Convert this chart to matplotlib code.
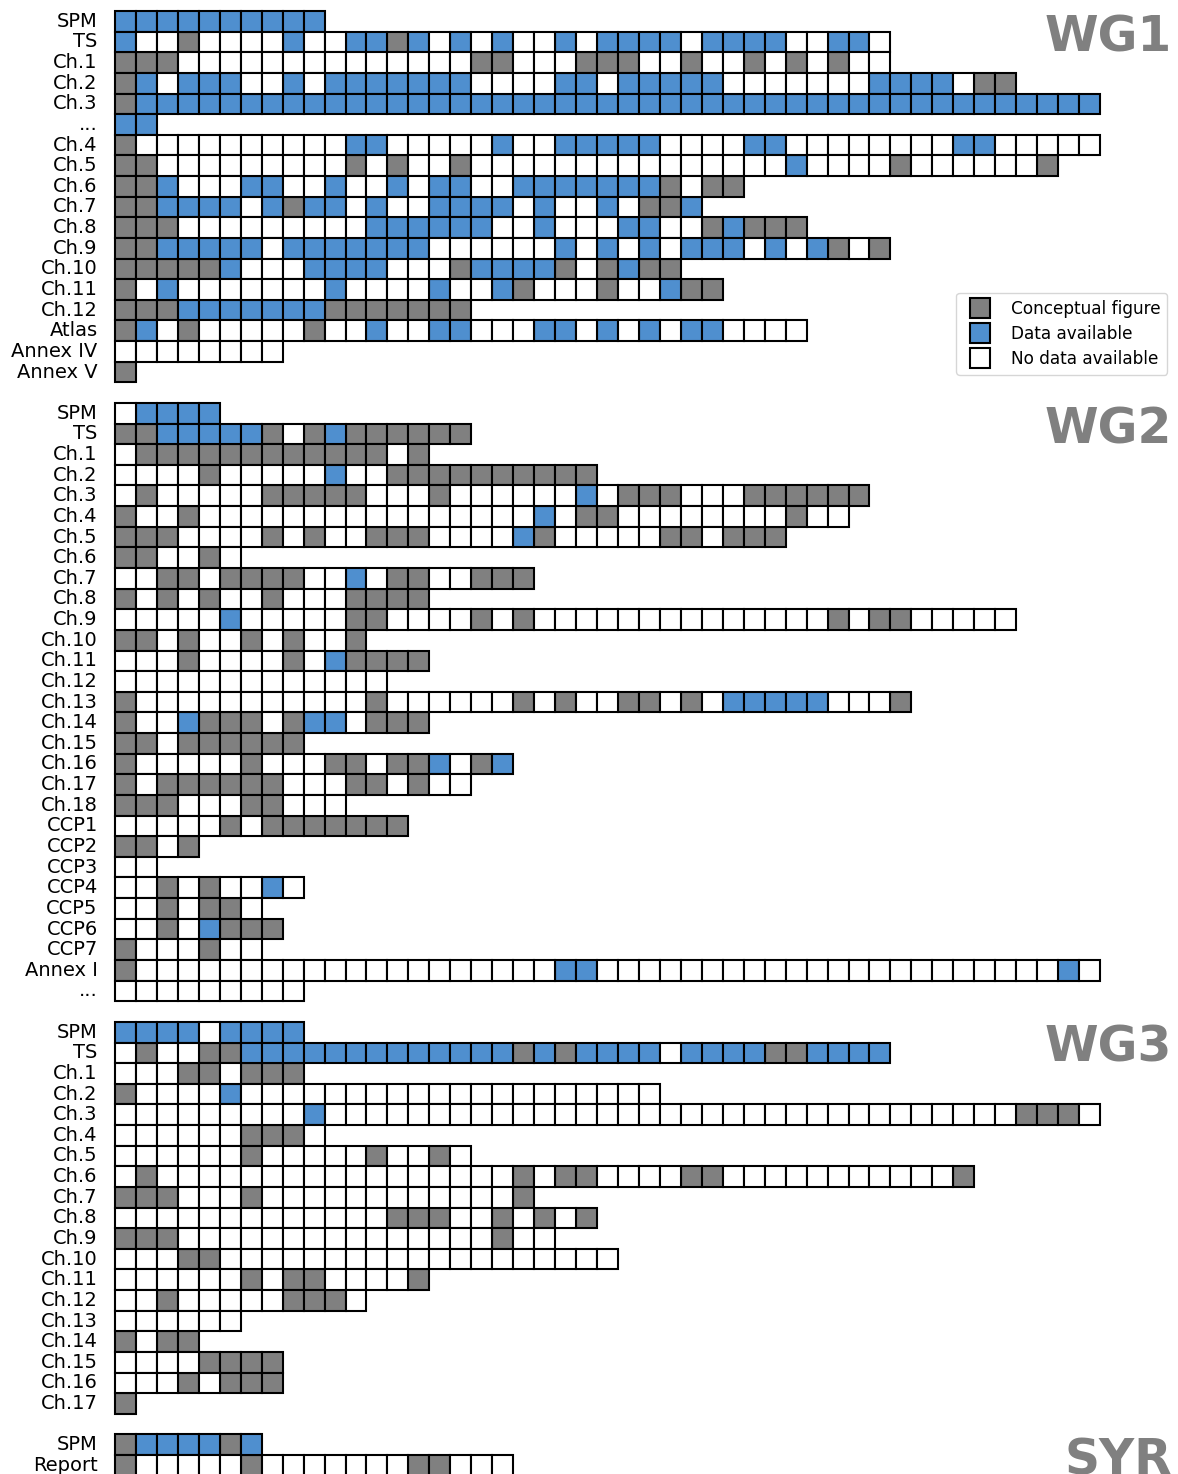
import matplotlib
matplotlib.use("Agg")
import matplotlib.pyplot as plt
import matplotlib.transforms as mtransforms
from matplotlib.lines import Line2D

# Status codes: G = conceptual figure, B = data available, W = no data available
wg1_labels = ["SPM", "TS", "Ch.1", "Ch.2", "Ch.3", "...", "Ch.4", "Ch.5", "Ch.6", "Ch.7",
              "Ch.8", "Ch.9", "Ch.10", "Ch.11", "Ch.12", "Atlas", "Annex IV", "Annex V"]
wg1_status = [
    "BBBBBBBBBB",
    "BWWGWWWWBW" "WBBGBWBWBW" "WBWBBBBWBB" "BBWWBBW",
    "GGGWWWWWWW" "WWWWWWWGGW" "WWGGGWWGWW" "GWGWGWW",
    "GBWBBBWWBW" "BBBBBBBWWW" "WBBWBBBBBW" "WWWWWWBBBB" "WGG",
    "GBBBBBBBBB" "BBBBBBBBBB" "BBBBBBBBBB" "BBBBBBBBBB" "BBBBBBB",
    "BB",
    "GWWWWWWWWW" "WBBWWWWWBW" "WBBBBBWWWW" "BBWWWWWWWW" "BBWWWWW",
    "GGWWWWWWWW" "WGWGWWGWWW" "WWWWWWWWWW" "WWBWWWWGWW" "WWWWG",
    "GGBWWWBBWW" "BWWBWBBWWB" "BBBBBBGWGG",
    "GGBBBBWBGB" "BWBWWBBBBW" "BWWBWGGB",
    "GGGWWWWWWW" "WWBBBBBBWW" "BWWWBBWWGB" "GGG",
    "GGBBBBBWBB" "BBBBBWWWWW" "WBWBWBWBBB" "WBWBGWG",
    "GGGGGBWWWB" "BBBWWWGBBB" "BGWGBGG",
    "GWBWWWWWWW" "BWWWWBWWBG" "WWWGWWBGG",
    "GGGBBBBBBB" "GGGGGGG",
    "GBWGWWWWWG" "WWBWWBBWWW" "BBWBWBWBBW" "WWW",
    "WWWWWWWW",
    "G",
]

wg2_labels = ["SPM", "TS", "Ch.1", "Ch.2", "Ch.3", "Ch.4", "Ch.5", "Ch.6", "Ch.7", "Ch.8",
              "Ch.9", "Ch.10", "Ch.11", "Ch.12", "Ch.13", "Ch.14", "Ch.15", "Ch.16", "Ch.17",
              "Ch.18", "CCP1", "CCP2", "CCP3", "CCP4", "CCP5", "CCP6", "CCP7", "Annex I", "..."]
wg2_status = [
    "WBBBB",
    "GGBBBBBGWG" "BGGGGGG",
    "WGGGGGGGGG" "GGGWG",
    "WWWWGWWWWW" "BWWGGGGGGG" "GGG",
    "WGWWWWWGGG" "GGWWWGWWWW" "WWBWGGGWWW" "GGGGGG",
    "GWWGWWWWWW" "WWWWWWWWWW" "BWGGWWWWWW" "WWGWW",
    "GGGWWWWGWG" "WWGGGWWWWB" "GWWWWWGGWG" "GG",
    "GGWWGW",
    "WWGGWGGGGW" "WBWGGWWGGG",
    "GWGWGWWGWW" "WGGGG",
    "WWWWWBWWWW" "WGGWWWWGWG" "WWWWWWWWWW" "WWWWGWGGWW" "WWW",
    "GGWGWWGWGW" "WG",
    "WWWGWWWWGW" "BGGGG",
    "WWWWWWWWWW" "WWW",
    "GWWWWWWWWW" "WWGWWWWWWG" "WGWWGGWGWB" "BBBBWWWG",
    "GWWBGGGWGB" "BWGGG",
    "GGWGGGGGG",
    "GWWWWWGWWW" "GGWGGBWGB",
    "GWGGGGGGWW" "WGGWGWW",
    "GGGWWWGGWW" "W",
    "WWWWWGWGGG" "GGGG",
    "GGWG",
    "WW",
    "WWGWGWWBW",
    "WWGWGGW",
    "WWGWBGGG",
    "GWWWGWW",
    "GWWWWWWWWW" "WWWWWWWWWW" "WBBWWWWWWW" "WWWWWWWWWW" "WWWWWBW",
    "WWWWWWWWW",
]

wg3_labels = ["SPM", "TS", "Ch.1", "Ch.2", "Ch.3", "Ch.4", "Ch.5", "Ch.6", "Ch.7", "Ch.8",
              "Ch.9", "Ch.10", "Ch.11", "Ch.12", "Ch.13", "Ch.14", "Ch.15", "Ch.16", "Ch.17"]
wg3_status = [
    "BBBBWBBBB",
    "WGWWGGBBBB" "BBBBBBBBBG" "BGBBBBWBBB" "BGGBBBB",
    "WWWGGWGGG",
    "GWWWWBWWWW" "WWWWWWWWWW" "WWWWWW",
    "WWWWWWWWWB" "WWWWWWWWWW" "WWWWWWWWWW" "WWWWWWWWWW" "WWWGGGW",
    "WWWWWWGGGW",
    "WWWWWWGWWW" "WWGWWGW",
    "WGWWWWWWWW" "WWWWWWWWWG" "WGGWWWWGGW" "WWWWWWWWWW" "G",
    "GGGWWWGWWW" "WWWWWWWWWG",
    "WWWWWWWWWW" "WWWGGGWWGW" "GWG",
    "GGGWWWWWWW" "WWWWWWWWGW" "W",
    "WWWGGWWWWW" "WWWWWWWWWW" "WWWW",
    "WWWWWWGWGG" "WWWWG",
    "WWGWWWWWGG" "GW",
    "WWWWWW",
    "GWGG",
    "WWWWGGGG",
    "WWWGWGGG",
    "G",
]

syr_labels = ["SPM", "Report"]
syr_status = [
    "GBBBBGB",
    "GWWWWWGWWW" "WWWWGGWWW",
]

group_names = ["WG1", "WG2", "WG3", "SYR"]
group_labels = [wg1_labels, wg2_labels, wg3_labels, syr_labels]
group_status = [wg1_status, wg2_status, wg3_status, syr_status]

codes = ["G", "B", "W"]
code_names = ["Conceptual figure", "Data available", "No data available"]
code_colors = ["#808080", "#4f8fcf", "#ffffff"]

# ---- layout (pixels of the 1178 x 1474 canvas) ----
W_PX, H_PX = 1178, 1474
fig = plt.figure(figsize=(W_PX / 100, H_PX / 100), dpi=100)

row = 0
tick_pos, tick_lab, starts = [], [], []
cell_rows = {c: [] for c in codes}
cell_cols = {c: [] for c in codes}
ncols = 0
for name, labels, status in zip(group_names, group_labels, group_status):
    starts.append(row)
    for lab, s in zip(labels, status):
        for j, c in enumerate(s):
            cell_rows[c].append(row)
            cell_cols[c].append(j)
        ncols = max(ncols, len(s))
        tick_pos.append(row + 0.5)
        tick_lab.append(lab)
        row += 1
    row += 1
nrows = row - 1

x_left, x_right = 115, 1100
y_top, row_h = 11, 20.63
ax = fig.add_axes([x_left / W_PX,
                   1 - (y_top + nrows * row_h) / H_PX,
                   (x_right - x_left) / W_PX,
                   nrows * row_h / H_PX])
ax.set_xlim(0, ncols)
ax.set_ylim(nrows, 0)

for c, col in zip(codes, code_colors):
    ax.barh(cell_rows[c], 1, left=cell_cols[c], height=1, align="edge",
            color=col, edgecolor="black", linewidth=1.5, clip_on=False)

ax.set_yticks(tick_pos)
ax.set_yticklabels(tick_lab, fontsize=14)
for t in ax.get_yticklabels():
    t.set_verticalalignment("center")
ax.tick_params(axis="y", length=0, pad=12.5)
ax.set_xticks([])
for sp in ax.spines.values():
    sp.set_visible(False)

trans = mtransforms.blended_transform_factory(fig.transFigure, ax.transData)
for name, s in zip(group_names, starts):
    ax.text(1172 / W_PX, s + 0.1, name, transform=trans, ha="right", va="top",
            fontsize=35, fontweight="bold", color="#808080", clip_on=False)

handles = [Line2D([], [], marker="s", linestyle="none", markersize=15,
                  markerfacecolor=col, markeredgecolor="black", markeredgewidth=1.5)
           for col in code_colors]
fig.legend(handles, code_names, loc="upper right",
           bbox_to_anchor=(1167 / W_PX, 1 - 293 / H_PX), bbox_transform=fig.transFigure,
           borderaxespad=0, fontsize=12.2, labelspacing=0.42, handletextpad=0.8)

fig.savefig("out.png", dpi=100)
